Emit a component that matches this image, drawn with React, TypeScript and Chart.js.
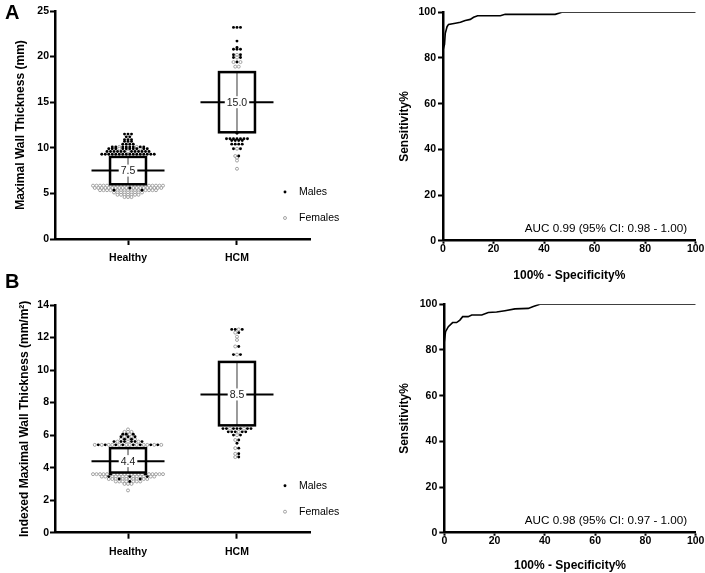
import React, { useEffect, useRef } from "react";
import { Chart, registerables } from "chart.js";

Chart.register(...registerables);

const FONT = "'Liberation Sans', Arial, Helvetica, sans-serif";
Chart.defaults.font.family = FONT;
Chart.defaults.color = "#000";

// ---------- shared labels ----------
const groupLabels = ["Healthy", "HCM"];
const legendLabels = ["Males", "Females"];

// ---------- Panel A: Maximal wall thickness (mm) ----------
const mwtTicks = [0, 5, 10, 15, 20, 25];
const mwtHealthyMales = [
  11.5, 11.5, 11.5, 11.2, 11.2, 10.9, 10.9, 10.9, 10.7, 10.7, 10.7,
  10.4, 10.4, 10.4, 10.4,
  10.1, 10.1, 10.1, 10.1, 10.1, 10.1, 10.1, 10.1,
  9.9, 9.9, 9.9, 9.9, 9.9, 9.9, 9.9, 9.9, 9.9, 9.9,
  9.6, 9.6, 9.6, 9.6, 9.6, 9.6, 9.6, 9.6, 9.6, 9.6, 9.6, 9.6,
  9.3, 9.3, 9.3, 9.3, 9.3, 9.3, 9.3, 9.3, 9.3, 9.3, 9.3, 9.3, 9.3, 9.3, 9.3, 9.3,
  5.6, 5.35, 5.35,
];
const mwtHealthyFemales = [
  10.1, 10.1, 9.9, 9.9, 9.6,
  5.85, 5.85, 5.85, 5.85, 5.85, 5.85, 5.85, 5.85, 5.85, 5.85, 5.85, 5.85, 5.85, 5.85, 5.85, 5.85, 5.85, 5.85, 5.85, 5.85, 5.85,
  5.6, 5.6, 5.6, 5.6, 5.6, 5.6, 5.6, 5.6, 5.6, 5.6, 5.6, 5.6, 5.6, 5.6, 5.6, 5.6, 5.6, 5.6, 5.6,
  5.35, 5.35, 5.35, 5.35, 5.35, 5.35, 5.35, 5.35, 5.35, 5.35, 5.35, 5.35, 5.35, 5.35, 5.35,
  5.1, 5.1, 5.1, 5.1, 5.1, 5.1, 5.1, 5.1, 5.1,
  4.85, 4.85, 4.85, 4.85, 4.85, 4.85, 4.85,
  4.6, 4.6, 4.6,
];
const mwtHcmMales = [
  23.2, 23.2, 23.2, 21.7, 21.0, 20.8, 20.8, 20.8, 20.2, 20.2, 19.9, 19.9, 19.4,
  11.6, 11.0, 11.0, 11.0, 11.0, 11.0, 11.0, 11.0, 10.8, 10.8, 10.8, 10.8,
  10.4, 10.4, 10.4, 10.4, 9.9, 9.9, 9.1,
];
const mwtHcmFemales = [20.2, 19.9, 19.4, 19.4, 18.9, 18.9, 9.9, 9.1, 8.9, 8.6, 7.7];
const mwtBoxLow = [6.0, 11.7];
const mwtBoxHigh = [9.0, 18.3];
const mwtMedian = [7.5, 15.0];
const mwtMedianText = ["7.5", "15.0"];

// ---------- Panel B: Indexed maximal wall thickness (mm/m2) ----------
const imwtTicks = [0, 2, 4, 6, 8, 10, 12, 14];
const imwtHealthyMales = [
  6.05, 6.05, 6.05, 5.9, 5.9, 5.9, 5.75, 5.75,
  5.6, 5.6, 5.6, 5.6, 5.6, 5.6,
  5.4, 5.4, 5.4, 5.4, 5.4, 5.4, 5.4, 5.4,
  3.6, 3.6, 3.45, 3.45, 3.45, 3.3, 3.3, 3.15,
];
const imwtHealthyFemales = [
  6.35, 6.2, 6.2, 6.2, 6.05, 5.9, 5.9, 5.75, 5.75, 5.75, 5.6, 5.6, 5.6,
  5.4, 5.4, 5.4, 5.4, 5.4, 5.4, 5.4, 5.4, 5.4, 5.4, 5.4, 5.4,
  3.6, 3.6, 3.6, 3.6, 3.6, 3.6, 3.6, 3.6, 3.6, 3.6, 3.6, 3.6, 3.6, 3.6, 3.6, 3.6, 3.6, 3.6, 3.6,
  3.45, 3.45, 3.45, 3.45, 3.45, 3.45, 3.45, 3.45, 3.45, 3.45, 3.45, 3.45, 3.45,
  3.3, 3.3, 3.3, 3.3, 3.3, 3.3, 3.3, 3.3, 3.3, 3.3,
  3.15, 3.15, 3.15, 3.15, 3.15, 3.15, 3.15,
  3.0, 3.0, 3.0, 2.6,
];
const imwtHcmMales = [
  12.5, 12.5, 12.5, 12.3, 11.45, 10.95, 10.95,
  6.4, 6.4, 6.4, 6.4, 6.4, 6.4, 6.4, 6.2, 6.2, 6.2, 6.2, 6.2,
  6.0, 6.0, 5.7, 5.5, 5.2, 4.85, 4.65,
];
const imwtHcmFemales = [
  12.5, 12.3, 12.05, 11.85, 11.45, 10.95,
  6.4, 6.4, 6.2, 6.0, 5.7, 5.2, 4.85, 4.65,
];
const imwtBoxLow = [3.7, 6.6];
const imwtBoxHigh = [5.2, 10.5];
const imwtMedian = [4.4, 8.5];
const imwtMedianText = ["4.4", "8.5"];

// ---------- ROC curves ----------
const rocTicks = [0, 20, 40, 60, 80, 100];
const rocAFpr = [0, 0.6, 0.9, 1.6, 2.2, 4.9, 6.9, 8.8, 10.8, 12.1, 13.7, 22.7, 24.6, 44.4, 47, 100];
const rocASens = [83.5, 86, 90.8, 93.7, 94.7, 95.2, 95.6, 96.4, 96.9, 97.8, 98.5, 98.5, 99.1, 99.1, 100, 100];
const rocBFpr = [0, 0.5, 1.6, 3.3, 4.9, 6.2, 7.3, 9.5, 10.9, 14.9, 17.5, 20.8, 24.1, 28.1, 33.4, 35.4, 38, 100];
const rocBSens = [83.6, 88, 90.2, 92, 92, 93.1, 94.6, 94.6, 95.3, 95.3, 96.4, 96.6, 97.2, 98, 98.2, 99, 100, 100];
const aucTextA = "AUC 0.99 (95% CI: 0.98 - 1.00)";
const aucTextB = "AUC 0.98 (95% CI: 0.97 - 1.00)";

// ---------- layout constants ----------
type Pt = { x: number; y: number };
const X_PX_PER_CAT = 109;
const DOT_STEP = 3.5;
const BOX_HALF = 0.165;
const MED_HALF = 0.335;
const X_MIN = -0.67;
const X_MAX = 1.67;
const tickFont = { size: 10.5, weight: "bold" as const };
const titleFont = { size: 12, weight: "bold" as const };

// Prism-like scatter-dot layout: equal values share a row, centred on the group
function rowLayout(groups: [number[], number[]][]) {
  const males: Pt[] = [];
  const females: Pt[] = [];
  groups.forEach(([m, f], gi) => {
    const rows = new Map<number, { m: number; f: number }>();
    m.forEach((v) => { const r = rows.get(v) || { m: 0, f: 0 }; r.m++; rows.set(v, r); });
    f.forEach((v) => { const r = rows.get(v) || { m: 0, f: 0 }; r.f++; rows.set(v, r); });
    rows.forEach((r, v) => {
      const n = r.m + r.f;
      const minorIsMale = r.m <= r.f;
      const k = Math.min(r.m, r.f);
      const slots = new Set<number>();
      for (let j = 0; j < k; j++) slots.add(Math.floor(((j + 0.5) * n) / k));
      for (let i = 0; i < n; i++) {
        const off = (i - (n - 1) / 2) * DOT_STEP;
        const isMale = slots.has(i) ? minorIsMale : !minorIsMale;
        (isMale ? males : females).push({ x: gi + off / X_PX_PER_CAT, y: v });
      }
    });
  });
  return { males, females };
}

function axisBase(tickLen: number) {
  return {
    grid: { display: true, drawOnChartArea: false, drawTicks: true, tickLength: tickLen, tickColor: "#000", tickWidth: 2 },
    border: { display: true, color: "#000", width: 2.5 },
  };
}

function boxPlugin(low: number[], high: number[], med: number[], medText: string[]) {
  return {
    id: "boxes",
    afterDatasetsDraw(chart: any) {
      const { ctx, chartArea } = chart;
      const xs = chart.scales.x;
      const ys = chart.scales.y;
      ctx.save();
      low.forEach((lo, i) => {
        const xl = xs.getPixelForValue(i - BOX_HALF);
        const xr = xs.getPixelForValue(i + BOX_HALF);
        const xc = xs.getPixelForValue(i);
        const yt = ys.getPixelForValue(high[i]);
        const yb = ys.getPixelForValue(lo);
        const ym = ys.getPixelForValue(med[i]);
        ctx.fillStyle = "#fff";
        ctx.fillRect(xl, yt, xr - xl, yb - yt);
        ctx.strokeStyle = "#7a7a7a";
        ctx.lineWidth = 1.5;
        ctx.beginPath();
        ctx.moveTo(xc, yt);
        ctx.lineTo(xc, yb);
        ctx.stroke();
        ctx.strokeStyle = "#000";
        ctx.lineWidth = 2.5;
        ctx.strokeRect(xl, yt, xr - xl, yb - yt);
        ctx.lineWidth = 2;
        ctx.beginPath();
        ctx.moveTo(xs.getPixelForValue(i - MED_HALF), ym);
        ctx.lineTo(xs.getPixelForValue(i + MED_HALF), ym);
        ctx.stroke();
        ctx.font = `10.5px ${FONT}`;
        const w = ctx.measureText(medText[i]).width;
        ctx.fillStyle = "#fff";
        ctx.fillRect(xc - w / 2 - 2, ym - 6, w + 4, 12);
        ctx.fillStyle = "#222";
        ctx.textAlign = "center";
        ctx.textBaseline = "middle";
        ctx.fillText(medText[i], xc, ym + 0.5);
      });
      // legend
      const lx = chartArea.right - 25;
      const ly = [chartArea.bottom - 47, chartArea.bottom - 21];
      chart.data.datasets.forEach((ds: any, i: number) => {
        ctx.beginPath();
        ctx.arc(lx, ly[i], ds.pointRadius, 0, Math.PI * 2);
        ctx.fillStyle = ds.pointBackgroundColor;
        ctx.fill();
        if (ds.pointBorderWidth > 0) {
          ctx.lineWidth = ds.pointBorderWidth;
          ctx.strokeStyle = ds.pointBorderColor;
          ctx.stroke();
        }
        ctx.font = `10.5px ${FONT}`;
        ctx.fillStyle = "#000";
        ctx.textAlign = "left";
        ctx.textBaseline = "middle";
        ctx.fillText(ds.label, lx + 14, ly[i]);
      });
      ctx.restore();
    },
  };
}

function aucPlugin(text: string) {
  return {
    id: "auc",
    afterDraw(chart: any) {
      const { ctx, chartArea } = chart;
      ctx.save();
      ctx.font = `11.7px ${FONT}`;
      ctx.fillStyle = "#000";
      ctx.textAlign = "right";
      ctx.textBaseline = "middle";
      ctx.fillText(text, chartArea.right - 8.5, chartArea.bottom - 11.5);
      ctx.restore();
    },
  };
}

function swarmConfig(o: any) {
  const pts = rowLayout([
    [o.hm, o.hf],
    [o.cm, o.cf],
  ]);
  return {
    type: "scatter",
    data: {
      datasets: [
        { label: legendLabels[0], data: pts.males, pointRadius: 1.45, pointHoverRadius: 1.45, pointBackgroundColor: "#000", pointBorderColor: "#000", pointBorderWidth: 0 },
        { label: legendLabels[1], data: pts.females, pointRadius: 1.5, pointHoverRadius: 1.5, pointBackgroundColor: "#fff", pointBorderColor: "#9a9a9a", pointBorderWidth: 0.9 },
      ],
    },
    options: {
      animation: false,
      responsive: false,
      events: [],
      layout: { padding: { left: 0, top: o.padTop, right: 35, bottom: 0 } },
      plugins: { legend: { display: false }, tooltip: { enabled: false } },
      scales: {
        x: {
          type: "linear",
          min: X_MIN,
          max: X_MAX,
          afterBuildTicks: (s: any) => { s.ticks = groupLabels.map((_, i) => ({ value: i })); },
          afterFit: (s: any) => { s.height = o.xAxisH; s.paddingLeft = 0; s.paddingRight = 0; },
          ticks: { font: tickFont, color: "#000", padding: 6.7, maxRotation: 0, autoSkip: false, callback: (v: number) => groupLabels[Math.round(v)] },
          ...axisBase(6),
        },
        y: {
          type: "linear",
          min: 0,
          max: o.yTicks[o.yTicks.length - 1],
          afterBuildTicks: (s: any) => { s.ticks = o.yTicks.map((v: number) => ({ value: v })); },
          afterFit: (s: any) => { s.width = 55; s.paddingTop = 0; s.paddingBottom = 0; },
          ticks: { font: tickFont, color: "#000", padding: 1 },
          ...axisBase(5),
          title: { display: true, text: o.yTitle, color: "#000", font: titleFont, padding: { top: o.yTitlePad, bottom: 0 } },
        },
      },
    },
    plugins: [boxPlugin(o.low, o.high, o.med, o.medText)],
  };
}

function rocConfig(o: any) {
  return {
    type: "line",
    data: {
      datasets: [
        {
          data: o.fpr.map((x: number, i: number) => ({ x, y: o.sens[i] })),
          borderColor: "#000",
          borderWidth: 1.6,
          pointRadius: 0,
          tension: 0,
          fill: false,
        },
      ],
    },
    options: {
      animation: false,
      responsive: false,
      events: [],
      layout: { padding: { left: 0, top: o.padTop, right: 9.3, bottom: 0 } },
      plugins: { legend: { display: false }, tooltip: { enabled: false } },
      scales: {
        x: {
          type: "linear",
          min: 0,
          max: 100,
          afterBuildTicks: (s: any) => { s.ticks = rocTicks.map((v) => ({ value: v })); },
          afterFit: (s: any) => { s.height = o.xAxisH; s.paddingLeft = 0; s.paddingRight = 0; },
          ticks: { font: tickFont, color: "#000", padding: -1, maxRotation: 0, autoSkip: false },
          ...axisBase(3),
          title: { display: true, text: "100% - Specificity%", color: "#000", font: titleFont, padding: { top: 0, bottom: o.xTitlePad } },
        },
        y: {
          type: "linear",
          min: 0,
          max: 100,
          afterBuildTicks: (s: any) => { s.ticks = rocTicks.map((v) => ({ value: v })); },
          afterFit: (s: any) => { s.width = o.yAxisW; s.paddingTop = 0; s.paddingBottom = 0; },
          ticks: { font: tickFont, color: "#000", padding: 2 },
          ...axisBase(5),
          title: { display: true, text: "Sensitivity%", color: "#000", font: titleFont, padding: { top: 52.8, bottom: 0 } },
        },
      },
    },
    plugins: [aucPlugin(o.auc)],
  };
}

function ChartCanvas(props: { left: number; top: number; width: number; height: number; make: () => any }) {
  const ref = useRef<HTMLCanvasElement>(null);
  useEffect(() => {
    const chart = new Chart(ref.current as HTMLCanvasElement, props.make());
    return () => chart.destroy();
  }, []);
  return (
    <canvas
      ref={ref}
      width={props.width}
      height={props.height}
      style={{ position: "absolute", left: props.left, top: props.top, width: props.width, height: props.height }}
    />
  );
}

const letterStyle: React.CSSProperties = {
  position: "absolute",
  left: 5,
  fontFamily: FONT,
  fontWeight: "bold",
  fontSize: 20,
  lineHeight: "normal",
  color: "#000",
};

export default function App() {
  return (
    <div style={{ position: "absolute", left: 0, top: 0, width: 705, height: 573, background: "#fff", overflow: "hidden" }}>
      <ChartCanvas
        left={0}
        top={0}
        width={345}
        height={290}
        make={() =>
          swarmConfig({
            hm: mwtHealthyMales, hf: mwtHealthyFemales, cm: mwtHcmMales, cf: mwtHcmFemales,
            yTicks: mwtTicks, yTitle: "Maximal Wall Thickness (mm)",
            padTop: 11, xAxisH: 51, yTitlePad: 13.8,
            low: mwtBoxLow, high: mwtBoxHigh, med: mwtMedian, medText: mwtMedianText,
          })
        }
      />
      <ChartCanvas
        left={345}
        top={0}
        width={360}
        height={290}
        make={() =>
          rocConfig({ fpr: rocAFpr, sens: rocASens, auc: aucTextA, padTop: 12.3, xAxisH: 49.3, yAxisW: 98, xTitlePad: 6.8 })
        }
      />
      <ChartCanvas
        left={0}
        top={290}
        width={345}
        height={283}
        make={() =>
          swarmConfig({
            hm: imwtHealthyMales, hf: imwtHealthyFemales, cm: imwtHcmMales, cf: imwtHcmFemales,
            yTicks: imwtTicks, yTitle: "Indexed Maximal Wall Thickness (mm/m\u00B2)",
            padTop: 15, xAxisH: 40.3, yTitlePad: 17.8,
            low: imwtBoxLow, high: imwtBoxHigh, med: imwtMedian, medText: imwtMedianText,
          })
        }
      />
      <ChartCanvas
        left={345}
        top={290}
        width={360}
        height={283}
        make={() =>
          rocConfig({ fpr: rocBFpr, sens: rocBSens, auc: aucTextB, padTop: 14.3, xAxisH: 40.3, yAxisW: 99.3, xTitlePad: 0 })
        }
      />
      <div style={{ ...letterStyle, top: 1 }}>A</div>
      <div style={{ ...letterStyle, top: 270 }}>B</div>
    </div>
  );
}
